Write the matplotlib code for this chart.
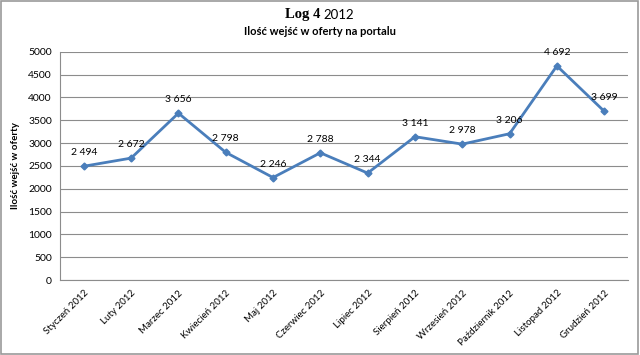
import matplotlib.pyplot as plt
from matplotlib.patches import Rectangle

months = ["Styczeń 2012", "Luty 2012", "Marzec 2012", "Kwiecień 2012", "Maj 2012",
          "Czerwiec 2012", "Lipiec 2012", "Sierpień 2012", "Wrzesień 2012",
          "Październik 2012", "Listopad 2012", "Grudzień 2012"]
visits = [2494, 2672, 3656, 2798, 2246, 2788, 2344, 3141, 2978, 3206, 4692, 3699]
yticks = list(range(0, 5001, 500))

plt.rcParams['font.family'] = ['Lato', 'DejaVu Sans']

fig = plt.figure(figsize=(6.4, 3.55), dpi=100)
ax = fig.add_axes([0.094, 0.211, 0.887, 0.643])

x = list(range(len(months)))
ax.plot(x, visits, color="#4a7ebb", lw=2, marker="D", ms=3.5)
for xi, v in zip(x, visits):
    lab = f"{v:,}".replace(",", " ")
    ax.annotate(lab, (xi, v), xytext=(0, 6.5), textcoords="offset points",
                ha="center", va="bottom", fontsize=7.5)

ax.set_xlim(-0.5, len(months) - 0.5)
ax.set_ylim(0, 5000)
ax.set_yticks(yticks)
ax.set_yticklabels([str(t) for t in yticks], fontsize=7.5)
ax.set_xticks(x)
ax.set_xticklabels(months, rotation=45, ha="right", rotation_mode="anchor", fontsize=7)
ax.tick_params(length=0, pad=6)
ax.grid(axis="y", color="#8c8c8c", lw=0.8)
ax.set_axisbelow(True)
for s in ["top", "right"]:
    ax.spines[s].set_visible(False)
ax.spines["left"].set_color("#8c8c8c")
ax.spines["bottom"].set_color("#8c8c8c")
ax.set_ylabel("Ilość wejść w oferty", fontsize=7, fontweight="bold", labelpad=6)

fig.text(0.5, 0.958, "Log 4", ha="right", va="center", fontsize=10.5,
         fontweight="bold", family=["Liberation Serif"])
fig.text(0.505, 0.958, "2012", ha="left", va="center", fontsize=9.5)
fig.text(0.5, 0.912, "Ilość wejść w oferty na portalu", ha="center", va="center",
         fontsize=8, fontweight="bold")

fig.patches.append(Rectangle((0.002, 0.003), 0.995, 0.994, transform=fig.transFigure,
                             fill=False, edgecolor="#9a9a9a", lw=1.2))

fig.savefig("out.png", dpi=100)
